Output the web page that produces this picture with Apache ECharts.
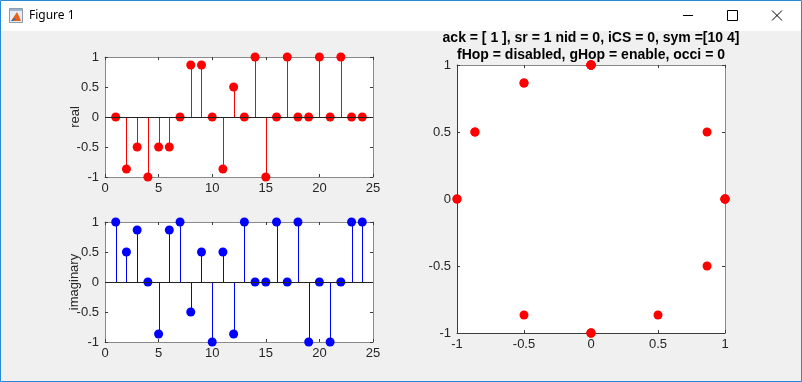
<!DOCTYPE html>
<html><head><meta charset="utf-8">
<script src="https://cdn.jsdelivr.net/npm/echarts@6/dist/echarts.min.js"></script>
<style>html,body{margin:0;padding:0;background:#f0f0f0;overflow:hidden}#c{width:802px;height:382px}</style>
</head><body><div id="c"></div>
<script>
// ---- data ----
const sampleIdx = [1,2,3,4,5,6,7,8,9,10,11,12,13,14,15,16,17,18,19,20,21,22,23,24];
const realVals = [0,-0.866,-0.5,-1,-0.5,-0.5,0,0.866,0.866,0,-0.866,0.5,0,1,-1,0,1,0,0,1,0,1,0,0];
const imagVals = [1,0.5,0.866,0,-0.866,0.866,1,-0.5,0.5,-1,0.5,-0.866,1,0,0,1,0,1,-1,0,-1,0,1,1];
const stemXTicks = [0,5,10,15,20,25];
const valTicks = [-1,-0.5,0,0.5,1];
const titleLines = ['ack = [ 1 ], sr = 1 nid = 0, iCS = 0, sym =[10 4]', 'fHop = disabled, gHop = enable, occi = 0'];
const windowTitle = 'Figure 1';
const realName = 'real';
const imagName = 'imaginary';

// ---- styling ----
const FONT = "'Liberation Sans', Arial, Helvetica, sans-serif";
const txtColor = '#262626';
const boxColor = '#8a8a8a';
const tickColor = '#3a3a3a';

const stemPairs = v => sampleIdx.map((x, i) => [x, v[i]]);
const realData = stemPairs(realVals);
const imagData = stemPairs(imagVals);
const constData = realVals.map((r, i) => [r, imagVals[i]]);

function axisBase(ticks, pos, gridIndex, showLabel, lineColor) {
  return {
    type: 'value', gridIndex: gridIndex, position: pos,
    min: ticks[0], max: ticks[ticks.length - 1], interval: ticks[1] - ticks[0],
    axisLine: {show: true, onZero: false, lineStyle: {color: lineColor || boxColor, width: 1}},
    axisTick: {show: true, inside: true, length: 3, lineStyle: {color: tickColor, width: 1}},
    axisLabel: {show: showLabel, color: txtColor, fontFamily: FONT, fontSize: 13,
      margin: (pos === 'left' || pos === 'right') ? 6 : 5},
    splitLine: {show: false}
  };
}

const stemRender = color => function (params, api) {
  const x = api.value(0), y = api.value(1);
  const p0 = api.coord([x, 0]), p1 = api.coord([x, y]);
  return {type: 'line', shape: {x1: Math.round(p0[0]) + 0.5, y1: p0[1], x2: Math.round(p1[0]) + 0.5, y2: p1[1]},
    style: {stroke: color, lineWidth: 1}};
};

const grids = [
  {left: 105, top: 57, width: 268, height: 120},
  {left: 105, top: 222, width: 268, height: 120},
  {left: 457, top: 65, width: 268, height: 268}
];
grids.forEach(g => { g.show = true; g.backgroundColor = '#ffffff'; g.borderWidth = 0; });

const nameStyle = {color: txtColor, fontFamily: FONT, fontSize: 13};
const nameOpts = (n, gap) => ({name: n, nameLocation: 'middle', nameRotate: 90, nameGap: gap, nameMoveOverlap: false, nameTextStyle: nameStyle});
const xAxes = [
  axisBase(stemXTicks, 'bottom', 0, true),
  axisBase(stemXTicks, 'top', 0, false),
  axisBase(stemXTicks, 'bottom', 1, true),
  axisBase(stemXTicks, 'top', 1, false),
  axisBase(valTicks, 'bottom', 2, true, '#3c3c3c'),
  axisBase(valTicks, 'top', 2, false)
];
const yAxes = [
  Object.assign(axisBase(valTicks, 'left', 0, true), nameOpts(realName, 23)),
  axisBase(valTicks, 'right', 0, false),
  Object.assign(axisBase(valTicks, 'left', 1, true), nameOpts(imagName, 24)),
  axisBase(valTicks, 'right', 1, false),
  axisBase(valTicks, 'left', 2, true, '#3c3c3c'),
  axisBase(valTicks, 'right', 2, false)
];

const baseLine = {silent: true, symbol: 'none', label: {show: false},
  lineStyle: {color: '#222222', width: 1, type: 'solid'}, data: [{yAxis: 0}], animation: false};

const dot = c => ({color: c, opacity: 1});
const series = [
  {type: 'custom', xAxisIndex: 0, yAxisIndex: 0, data: realData, renderItem: stemRender('#ff0000'),
    encode: {x: 0, y: 1}, clip: false, z: 2, markLine: baseLine},
  {type: 'scatter', xAxisIndex: 0, yAxisIndex: 0, data: realData, symbolSize: 9,
    itemStyle: dot('#ff0000'), clip: false, z: 3},
  {type: 'custom', xAxisIndex: 2, yAxisIndex: 2, data: imagData, renderItem: stemRender('#0000ff'),
    encode: {x: 0, y: 1}, clip: false, z: 2, markLine: baseLine},
  {type: 'scatter', xAxisIndex: 2, yAxisIndex: 2, data: imagData, symbolSize: 9,
    itemStyle: dot('#0000ff'), clip: false, z: 3},
  {type: 'scatter', xAxisIndex: 4, yAxisIndex: 4, data: constData, symbolSize: 9,
    itemStyle: dot('#ff0000'), clip: false, z: 3}
];

const graphic = [
  {type: 'rect', shape: {x: 0, y: 0, width: 802, height: 31}, style: {fill: '#ffffff'}, z: 0},
  {type: 'rect', shape: {x: 0.5, y: 0.5, width: 801, height: 381}, style: {fill: 'none', stroke: '#2b88d8', lineWidth: 1}, z: 10},
  // app icon
  {type: 'rect', shape: {x: 9.5, y: 8.5, width: 13, height: 14}, style: {fill: '#e8eef5', stroke: '#8c9bb0', lineWidth: 1}, z: 1},
  {type: 'rect', shape: {x: 10, y: 9, width: 12, height: 2}, style: {fill: '#9fb4d0'}, z: 1},
  {type: 'polygon', shape: {points: [[11, 21], [15, 15], [17, 12], [19, 16], [21, 21]]}, style: {fill: '#e8631c'}, z: 2},
  {type: 'polygon', shape: {points: [[11, 21], [14, 18], [16, 19], [13, 21]]}, style: {fill: '#3a6fb0'}, z: 3},
  {type: 'text', x: 29, y: 16, style: {text: windowTitle, font: "12px 'Noto Sans', 'Open Sans', sans-serif", fill: '#000000', textVerticalAlign: 'middle'}, z: 2},
  // window controls
  {type: 'line', shape: {x1: 683, y1: 15.5, x2: 693, y2: 15.5}, style: {stroke: '#000000', lineWidth: 1}, z: 2},
  {type: 'rect', shape: {x: 727.5, y: 10.5, width: 10, height: 10}, style: {fill: 'none', stroke: '#000000', lineWidth: 1}, z: 2},
  {type: 'line', shape: {x1: 772, y1: 10.5, x2: 782, y2: 20.5}, style: {stroke: '#000000', lineWidth: 1}, z: 2},
  {type: 'line', shape: {x1: 782, y1: 10.5, x2: 772, y2: 20.5}, style: {stroke: '#000000', lineWidth: 1}, z: 2}
];

const chart = echarts.init(document.getElementById('c'), null, {renderer: 'canvas'});
chart.setOption({
  animation: false,
  backgroundColor: '#f0f0f0',
  title: {text: titleLines.join('\n'), left: 591, top: 30, padding: 0, textAlign: 'center',
    textStyle: {fontFamily: FONT, fontSize: 14, fontWeight: 'bold', color: '#000000', lineHeight: 17}},
  grid: grids,
  xAxis: xAxes,
  yAxis: yAxes,
  series: series,
  graphic: graphic
});
</script></body></html>
